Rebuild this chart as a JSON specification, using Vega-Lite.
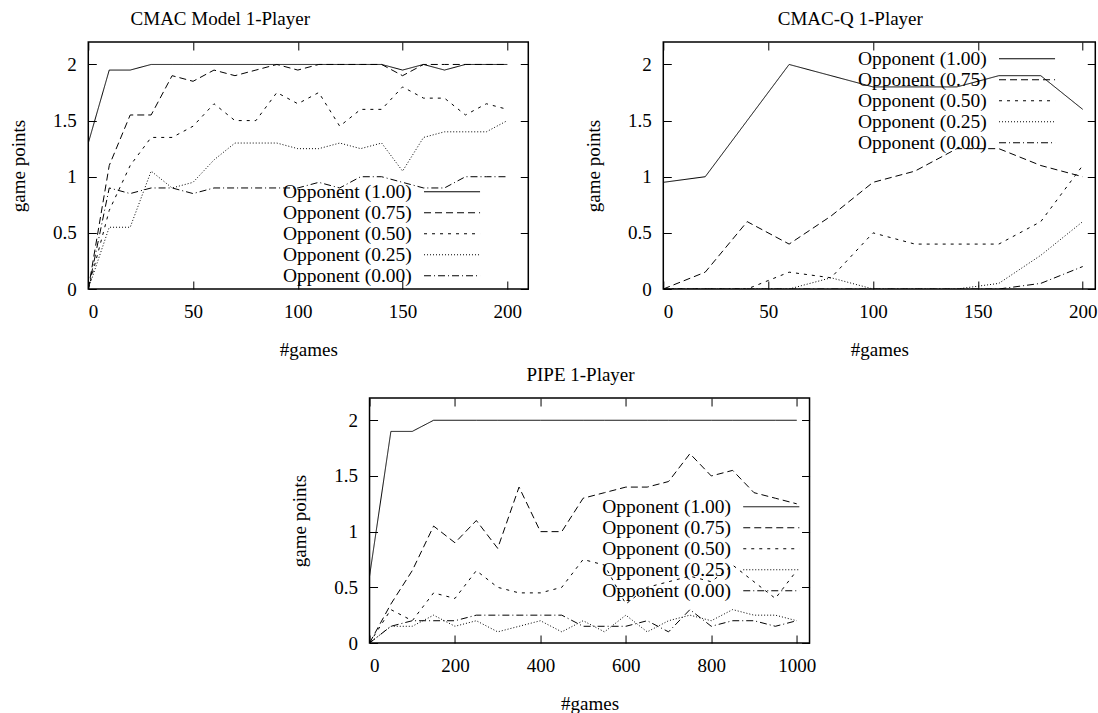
{
  "$schema": "https://vega.github.io/schema/vega-lite/v6.json",
  "padding": {"left": 8, "top": 8, "right": 0, "bottom": 0},
  "background": "white",
  "config": {
    "view": {"stroke": "black", "strokeWidth": 1.5},
    "font": "Liberation Serif",
    "title": {"font": "Liberation Serif", "fontSize": 19, "fontWeight": "normal", "color": "black", "baseline": "alphabetic", "offset": 13},
    "axis": {"labelFont": "Liberation Serif", "labelFontSize": 19, "titleFont": "Liberation Serif", "titleFontSize": 19, "titleFontWeight": "normal", "labelColor": "black", "titleColor": "black", "tickColor": "black", "tickSize": -8, "domain": false, "grid": false},
    "axisX": {"labelPadding": 21, "titlePadding": 19, "format": "d"},
    "axisY": {"labelPadding": 20, "titlePadding": 24},
    "legend": {"orient": "none", "title": null, "labelFont": "Liberation Serif", "labelFontSize": 19.5, "labelColor": "black", "labelAlign": "right", "labelOffset": -50, "symbolType": "M-10,0H10", "symbolSize": 31.4, "symbolStrokeWidth": 1, "symbolStrokeColor": "black", "symbolFillColor": "transparent", "rowPadding": 0, "padding": 0}
  },
  "datasets": {
    "p1": [
      {"g":0,"p":1.3,"o":"Opponent (1.00)"},{"g":10,"p":1.95,"o":"Opponent (1.00)"},{"g":20,"p":1.95,"o":"Opponent (1.00)"},{"g":30,"p":2,"o":"Opponent (1.00)"},{"g":40,"p":2,"o":"Opponent (1.00)"},{"g":50,"p":2,"o":"Opponent (1.00)"},{"g":60,"p":2,"o":"Opponent (1.00)"},{"g":70,"p":2,"o":"Opponent (1.00)"},{"g":80,"p":2,"o":"Opponent (1.00)"},{"g":90,"p":2,"o":"Opponent (1.00)"},{"g":100,"p":2,"o":"Opponent (1.00)"},{"g":110,"p":2,"o":"Opponent (1.00)"},{"g":120,"p":2,"o":"Opponent (1.00)"},{"g":130,"p":2,"o":"Opponent (1.00)"},{"g":140,"p":2,"o":"Opponent (1.00)"},{"g":150,"p":1.95,"o":"Opponent (1.00)"},{"g":160,"p":2,"o":"Opponent (1.00)"},{"g":170,"p":1.95,"o":"Opponent (1.00)"},{"g":180,"p":2,"o":"Opponent (1.00)"},{"g":190,"p":2,"o":"Opponent (1.00)"},{"g":200,"p":2,"o":"Opponent (1.00)"},
      {"g":0,"p":0,"o":"Opponent (0.75)"},{"g":10,"p":1.1,"o":"Opponent (0.75)"},{"g":20,"p":1.55,"o":"Opponent (0.75)"},{"g":30,"p":1.55,"o":"Opponent (0.75)"},{"g":40,"p":1.9,"o":"Opponent (0.75)"},{"g":50,"p":1.85,"o":"Opponent (0.75)"},{"g":60,"p":1.95,"o":"Opponent (0.75)"},{"g":70,"p":1.9,"o":"Opponent (0.75)"},{"g":80,"p":1.95,"o":"Opponent (0.75)"},{"g":90,"p":2,"o":"Opponent (0.75)"},{"g":100,"p":1.95,"o":"Opponent (0.75)"},{"g":110,"p":2,"o":"Opponent (0.75)"},{"g":120,"p":2,"o":"Opponent (0.75)"},{"g":130,"p":2,"o":"Opponent (0.75)"},{"g":140,"p":2,"o":"Opponent (0.75)"},{"g":150,"p":1.9,"o":"Opponent (0.75)"},{"g":160,"p":2,"o":"Opponent (0.75)"},{"g":170,"p":2,"o":"Opponent (0.75)"},{"g":180,"p":2,"o":"Opponent (0.75)"},{"g":190,"p":2,"o":"Opponent (0.75)"},{"g":200,"p":2,"o":"Opponent (0.75)"},
      {"g":0,"p":0,"o":"Opponent (0.50)"},{"g":10,"p":0.7,"o":"Opponent (0.50)"},{"g":20,"p":1.1,"o":"Opponent (0.50)"},{"g":30,"p":1.35,"o":"Opponent (0.50)"},{"g":40,"p":1.35,"o":"Opponent (0.50)"},{"g":50,"p":1.45,"o":"Opponent (0.50)"},{"g":60,"p":1.65,"o":"Opponent (0.50)"},{"g":70,"p":1.5,"o":"Opponent (0.50)"},{"g":80,"p":1.5,"o":"Opponent (0.50)"},{"g":90,"p":1.75,"o":"Opponent (0.50)"},{"g":100,"p":1.65,"o":"Opponent (0.50)"},{"g":110,"p":1.75,"o":"Opponent (0.50)"},{"g":120,"p":1.45,"o":"Opponent (0.50)"},{"g":130,"p":1.6,"o":"Opponent (0.50)"},{"g":140,"p":1.6,"o":"Opponent (0.50)"},{"g":150,"p":1.8,"o":"Opponent (0.50)"},{"g":160,"p":1.7,"o":"Opponent (0.50)"},{"g":170,"p":1.7,"o":"Opponent (0.50)"},{"g":180,"p":1.55,"o":"Opponent (0.50)"},{"g":190,"p":1.65,"o":"Opponent (0.50)"},{"g":200,"p":1.6,"o":"Opponent (0.50)"},
      {"g":0,"p":0,"o":"Opponent (0.25)"},{"g":10,"p":0.55,"o":"Opponent (0.25)"},{"g":20,"p":0.55,"o":"Opponent (0.25)"},{"g":30,"p":1.05,"o":"Opponent (0.25)"},{"g":40,"p":0.9,"o":"Opponent (0.25)"},{"g":50,"p":0.95,"o":"Opponent (0.25)"},{"g":60,"p":1.15,"o":"Opponent (0.25)"},{"g":70,"p":1.3,"o":"Opponent (0.25)"},{"g":80,"p":1.3,"o":"Opponent (0.25)"},{"g":90,"p":1.3,"o":"Opponent (0.25)"},{"g":100,"p":1.25,"o":"Opponent (0.25)"},{"g":110,"p":1.25,"o":"Opponent (0.25)"},{"g":120,"p":1.3,"o":"Opponent (0.25)"},{"g":130,"p":1.25,"o":"Opponent (0.25)"},{"g":140,"p":1.3,"o":"Opponent (0.25)"},{"g":150,"p":1.05,"o":"Opponent (0.25)"},{"g":160,"p":1.35,"o":"Opponent (0.25)"},{"g":170,"p":1.4,"o":"Opponent (0.25)"},{"g":180,"p":1.4,"o":"Opponent (0.25)"},{"g":190,"p":1.4,"o":"Opponent (0.25)"},{"g":200,"p":1.5,"o":"Opponent (0.25)"},
      {"g":0,"p":0,"o":"Opponent (0.00)"},{"g":10,"p":0.9,"o":"Opponent (0.00)"},{"g":20,"p":0.85,"o":"Opponent (0.00)"},{"g":30,"p":0.9,"o":"Opponent (0.00)"},{"g":40,"p":0.9,"o":"Opponent (0.00)"},{"g":50,"p":0.85,"o":"Opponent (0.00)"},{"g":60,"p":0.9,"o":"Opponent (0.00)"},{"g":70,"p":0.9,"o":"Opponent (0.00)"},{"g":80,"p":0.9,"o":"Opponent (0.00)"},{"g":90,"p":0.9,"o":"Opponent (0.00)"},{"g":100,"p":0.9,"o":"Opponent (0.00)"},{"g":110,"p":0.95,"o":"Opponent (0.00)"},{"g":120,"p":0.9,"o":"Opponent (0.00)"},{"g":130,"p":1,"o":"Opponent (0.00)"},{"g":140,"p":1,"o":"Opponent (0.00)"},{"g":150,"p":0.95,"o":"Opponent (0.00)"},{"g":160,"p":0.9,"o":"Opponent (0.00)"},{"g":170,"p":0.9,"o":"Opponent (0.00)"},{"g":180,"p":1,"o":"Opponent (0.00)"},{"g":190,"p":1,"o":"Opponent (0.00)"},{"g":200,"p":1,"o":"Opponent (0.00)"}
    ],
    "p2": [
      {"g":0,"p":0.95,"o":"Opponent (1.00)"},{"g":20,"p":1,"o":"Opponent (1.00)"},{"g":40,"p":1.5,"o":"Opponent (1.00)"},{"g":60,"p":2,"o":"Opponent (1.00)"},{"g":80,"p":1.9,"o":"Opponent (1.00)"},{"g":100,"p":1.8,"o":"Opponent (1.00)"},{"g":120,"p":1.8,"o":"Opponent (1.00)"},{"g":140,"p":1.8,"o":"Opponent (1.00)"},{"g":160,"p":1.9,"o":"Opponent (1.00)"},{"g":180,"p":1.9,"o":"Opponent (1.00)"},{"g":200,"p":1.6,"o":"Opponent (1.00)"},
      {"g":0,"p":0,"o":"Opponent (0.75)"},{"g":20,"p":0.15,"o":"Opponent (0.75)"},{"g":40,"p":0.6,"o":"Opponent (0.75)"},{"g":60,"p":0.4,"o":"Opponent (0.75)"},{"g":80,"p":0.65,"o":"Opponent (0.75)"},{"g":100,"p":0.95,"o":"Opponent (0.75)"},{"g":120,"p":1.05,"o":"Opponent (0.75)"},{"g":140,"p":1.25,"o":"Opponent (0.75)"},{"g":160,"p":1.25,"o":"Opponent (0.75)"},{"g":180,"p":1.1,"o":"Opponent (0.75)"},{"g":200,"p":1,"o":"Opponent (0.75)"},
      {"g":0,"p":0,"o":"Opponent (0.50)"},{"g":20,"p":0,"o":"Opponent (0.50)"},{"g":40,"p":0,"o":"Opponent (0.50)"},{"g":60,"p":0.15,"o":"Opponent (0.50)"},{"g":80,"p":0.1,"o":"Opponent (0.50)"},{"g":100,"p":0.5,"o":"Opponent (0.50)"},{"g":120,"p":0.4,"o":"Opponent (0.50)"},{"g":140,"p":0.4,"o":"Opponent (0.50)"},{"g":160,"p":0.4,"o":"Opponent (0.50)"},{"g":180,"p":0.6,"o":"Opponent (0.50)"},{"g":200,"p":1.1,"o":"Opponent (0.50)"},
      {"g":0,"p":0,"o":"Opponent (0.25)"},{"g":20,"p":0,"o":"Opponent (0.25)"},{"g":40,"p":0,"o":"Opponent (0.25)"},{"g":60,"p":0,"o":"Opponent (0.25)"},{"g":80,"p":0.1,"o":"Opponent (0.25)"},{"g":100,"p":0,"o":"Opponent (0.25)"},{"g":120,"p":0,"o":"Opponent (0.25)"},{"g":140,"p":0,"o":"Opponent (0.25)"},{"g":160,"p":0.05,"o":"Opponent (0.25)"},{"g":180,"p":0.3,"o":"Opponent (0.25)"},{"g":200,"p":0.6,"o":"Opponent (0.25)"},
      {"g":0,"p":0,"o":"Opponent (0.00)"},{"g":20,"p":0,"o":"Opponent (0.00)"},{"g":40,"p":0,"o":"Opponent (0.00)"},{"g":60,"p":0,"o":"Opponent (0.00)"},{"g":80,"p":0,"o":"Opponent (0.00)"},{"g":100,"p":0,"o":"Opponent (0.00)"},{"g":120,"p":0,"o":"Opponent (0.00)"},{"g":140,"p":0,"o":"Opponent (0.00)"},{"g":160,"p":0,"o":"Opponent (0.00)"},{"g":180,"p":0.05,"o":"Opponent (0.00)"},{"g":200,"p":0.2,"o":"Opponent (0.00)"}
    ],
    "p3": [
      {"g":0,"p":0.6,"o":"Opponent (1.00)"},{"g":50,"p":1.9,"o":"Opponent (1.00)"},{"g":100,"p":1.9,"o":"Opponent (1.00)"},{"g":150,"p":2,"o":"Opponent (1.00)"},{"g":200,"p":2,"o":"Opponent (1.00)"},{"g":250,"p":2,"o":"Opponent (1.00)"},{"g":300,"p":2,"o":"Opponent (1.00)"},{"g":350,"p":2,"o":"Opponent (1.00)"},{"g":400,"p":2,"o":"Opponent (1.00)"},{"g":450,"p":2,"o":"Opponent (1.00)"},{"g":500,"p":2,"o":"Opponent (1.00)"},{"g":550,"p":2,"o":"Opponent (1.00)"},{"g":600,"p":2,"o":"Opponent (1.00)"},{"g":650,"p":2,"o":"Opponent (1.00)"},{"g":700,"p":2,"o":"Opponent (1.00)"},{"g":750,"p":2,"o":"Opponent (1.00)"},{"g":800,"p":2,"o":"Opponent (1.00)"},{"g":850,"p":2,"o":"Opponent (1.00)"},{"g":900,"p":2,"o":"Opponent (1.00)"},{"g":950,"p":2,"o":"Opponent (1.00)"},{"g":1000,"p":2,"o":"Opponent (1.00)"},
      {"g":0,"p":0,"o":"Opponent (0.75)"},{"g":50,"p":0.35,"o":"Opponent (0.75)"},{"g":100,"p":0.65,"o":"Opponent (0.75)"},{"g":150,"p":1.05,"o":"Opponent (0.75)"},{"g":200,"p":0.9,"o":"Opponent (0.75)"},{"g":250,"p":1.1,"o":"Opponent (0.75)"},{"g":300,"p":0.85,"o":"Opponent (0.75)"},{"g":350,"p":1.4,"o":"Opponent (0.75)"},{"g":400,"p":1,"o":"Opponent (0.75)"},{"g":450,"p":1,"o":"Opponent (0.75)"},{"g":500,"p":1.3,"o":"Opponent (0.75)"},{"g":550,"p":1.35,"o":"Opponent (0.75)"},{"g":600,"p":1.4,"o":"Opponent (0.75)"},{"g":650,"p":1.4,"o":"Opponent (0.75)"},{"g":700,"p":1.45,"o":"Opponent (0.75)"},{"g":750,"p":1.7,"o":"Opponent (0.75)"},{"g":800,"p":1.5,"o":"Opponent (0.75)"},{"g":850,"p":1.55,"o":"Opponent (0.75)"},{"g":900,"p":1.35,"o":"Opponent (0.75)"},{"g":950,"p":1.3,"o":"Opponent (0.75)"},{"g":1000,"p":1.25,"o":"Opponent (0.75)"},
      {"g":0,"p":0,"o":"Opponent (0.50)"},{"g":50,"p":0.3,"o":"Opponent (0.50)"},{"g":100,"p":0.2,"o":"Opponent (0.50)"},{"g":150,"p":0.45,"o":"Opponent (0.50)"},{"g":200,"p":0.4,"o":"Opponent (0.50)"},{"g":250,"p":0.65,"o":"Opponent (0.50)"},{"g":300,"p":0.5,"o":"Opponent (0.50)"},{"g":350,"p":0.45,"o":"Opponent (0.50)"},{"g":400,"p":0.45,"o":"Opponent (0.50)"},{"g":450,"p":0.5,"o":"Opponent (0.50)"},{"g":500,"p":0.75,"o":"Opponent (0.50)"},{"g":550,"p":0.7,"o":"Opponent (0.50)"},{"g":600,"p":0.35,"o":"Opponent (0.50)"},{"g":650,"p":0.5,"o":"Opponent (0.50)"},{"g":700,"p":0.55,"o":"Opponent (0.50)"},{"g":750,"p":0.6,"o":"Opponent (0.50)"},{"g":800,"p":0.55,"o":"Opponent (0.50)"},{"g":850,"p":0.7,"o":"Opponent (0.50)"},{"g":900,"p":0.55,"o":"Opponent (0.50)"},{"g":950,"p":0.4,"o":"Opponent (0.50)"},{"g":1000,"p":0.65,"o":"Opponent (0.50)"},
      {"g":0,"p":0,"o":"Opponent (0.25)"},{"g":50,"p":0.15,"o":"Opponent (0.25)"},{"g":100,"p":0.15,"o":"Opponent (0.25)"},{"g":150,"p":0.25,"o":"Opponent (0.25)"},{"g":200,"p":0.15,"o":"Opponent (0.25)"},{"g":250,"p":0.2,"o":"Opponent (0.25)"},{"g":300,"p":0.1,"o":"Opponent (0.25)"},{"g":350,"p":0.15,"o":"Opponent (0.25)"},{"g":400,"p":0.2,"o":"Opponent (0.25)"},{"g":450,"p":0.1,"o":"Opponent (0.25)"},{"g":500,"p":0.2,"o":"Opponent (0.25)"},{"g":550,"p":0.1,"o":"Opponent (0.25)"},{"g":600,"p":0.25,"o":"Opponent (0.25)"},{"g":650,"p":0.1,"o":"Opponent (0.25)"},{"g":700,"p":0.2,"o":"Opponent (0.25)"},{"g":750,"p":0.25,"o":"Opponent (0.25)"},{"g":800,"p":0.2,"o":"Opponent (0.25)"},{"g":850,"p":0.3,"o":"Opponent (0.25)"},{"g":900,"p":0.25,"o":"Opponent (0.25)"},{"g":950,"p":0.25,"o":"Opponent (0.25)"},{"g":1000,"p":0.2,"o":"Opponent (0.25)"},
      {"g":0,"p":0,"o":"Opponent (0.00)"},{"g":50,"p":0.15,"o":"Opponent (0.00)"},{"g":100,"p":0.2,"o":"Opponent (0.00)"},{"g":150,"p":0.2,"o":"Opponent (0.00)"},{"g":200,"p":0.2,"o":"Opponent (0.00)"},{"g":250,"p":0.25,"o":"Opponent (0.00)"},{"g":300,"p":0.25,"o":"Opponent (0.00)"},{"g":350,"p":0.25,"o":"Opponent (0.00)"},{"g":400,"p":0.25,"o":"Opponent (0.00)"},{"g":450,"p":0.25,"o":"Opponent (0.00)"},{"g":500,"p":0.15,"o":"Opponent (0.00)"},{"g":550,"p":0.15,"o":"Opponent (0.00)"},{"g":600,"p":0.15,"o":"Opponent (0.00)"},{"g":650,"p":0.2,"o":"Opponent (0.00)"},{"g":700,"p":0.1,"o":"Opponent (0.00)"},{"g":750,"p":0.3,"o":"Opponent (0.00)"},{"g":800,"p":0.15,"o":"Opponent (0.00)"},{"g":850,"p":0.2,"o":"Opponent (0.00)"},{"g":900,"p":0.2,"o":"Opponent (0.00)"},{"g":950,"p":0.15,"o":"Opponent (0.00)"},{"g":1000,"p":0.2,"o":"Opponent (0.00)"}
    ]
  },
  "vconcat": [
    {
      "hconcat": [
        {
          "width": 440, "height": 247,
          "title": {"text": "CMAC Model 1-Player", "dx": -88},
          "data": {"name": "p1"},
          "layer": [
            {"mark": {"type": "line", "color": "black", "strokeWidth": 1, "clip": true},
             "encoding": {
               "x": {"field": "g", "type": "quantitative", "scale": {"domain": [0, 210], "nice": false, "zero": false}, "axis": {"orient": "bottom", "values": [0, 50, 100, 150, 200], "title": "#games"}},
               "y": {"field": "p", "type": "quantitative", "scale": {"domain": [0, 2.2], "nice": false}, "axis": {"orient": "left", "values": [0, 0.5, 1, 1.5, 2], "format": "~g", "title": "game points"}},
               "strokeDash": {"field": "o", "type": "nominal", "scale": {"domain": ["Opponent (1.00)", "Opponent (0.75)", "Opponent (0.50)", "Opponent (0.25)", "Opponent (0.00)"], "range": [[1, 0], [7, 4], [3, 5], [1, 2], [7, 3, 1, 3]]}, "legend": {"legendX": 354, "legendY": 140}}
             }},
            {"mark": {"type": "line", "opacity": 0},
             "encoding": {
               "x": {"field": "g", "type": "quantitative", "scale": {"domain": [0, 210], "nice": false, "zero": false}, "axis": {"orient": "top", "values": [0, 50, 100, 150, 200], "labels": false, "title": null}},
               "y": {"field": "p", "type": "quantitative", "scale": {"domain": [0, 2.2], "nice": false}, "axis": {"orient": "right", "values": [0, 0.5, 1, 1.5, 2], "labels": false, "title": null}}
             }}
          ],
          "resolve": {"axis": {"x": "independent", "y": "independent"}}
        },
        {
          "width": 432, "height": 247,
          "title": {"text": "CMAC-Q 1-Player", "dx": -29},
          "data": {"name": "p2"},
          "layer": [
            {"mark": {"type": "line", "color": "black", "strokeWidth": 1, "clip": true},
             "encoding": {
               "x": {"field": "g", "type": "quantitative", "scale": {"domain": [0, 206], "nice": false, "zero": false}, "axis": {"orient": "bottom", "values": [0, 50, 100, 150, 200], "title": "#games"}},
               "y": {"field": "p", "type": "quantitative", "scale": {"domain": [0, 2.2], "nice": false}, "axis": {"orient": "left", "values": [0, 0.5, 1, 1.5, 2], "format": "~g", "title": "game points"}},
               "strokeDash": {"field": "o", "type": "nominal", "scale": {"domain": ["Opponent (1.00)", "Opponent (0.75)", "Opponent (0.50)", "Opponent (0.25)", "Opponent (0.00)"], "range": [[1, 0], [7, 4], [3, 5], [1, 2], [7, 3, 1, 3]]}, "legend": {"legendX": 354, "legendY": 7}}
             }},
            {"mark": {"type": "line", "opacity": 0},
             "encoding": {
               "x": {"field": "g", "type": "quantitative", "scale": {"domain": [0, 206], "nice": false, "zero": false}, "axis": {"orient": "top", "values": [0, 50, 100, 150, 200], "labels": false, "title": null}},
               "y": {"field": "p", "type": "quantitative", "scale": {"domain": [0, 2.2], "nice": false}, "axis": {"orient": "right", "values": [0, 0.5, 1, 1.5, 2], "labels": false, "title": null}}
             }}
          ],
          "resolve": {"axis": {"x": "independent", "y": "independent"}}
        }
      ],
      "spacing": 53,
      "resolve": {"scale": {"strokeDash": "independent"}, "legend": {"strokeDash": "independent"}}
    },
    {
      "width": 440, "height": 245,
      "title": {"text": "PIPE 1-Player", "dx": -9},
      "data": {"name": "p3"},
      "layer": [
        {"mark": {"type": "line", "color": "black", "strokeWidth": 1, "clip": true},
         "encoding": {
           "x": {"field": "g", "type": "quantitative", "scale": {"domain": [0, 1030], "nice": false, "zero": false}, "axis": {"orient": "bottom", "values": [0, 200, 400, 600, 800, 1000], "title": "#games"}},
           "y": {"field": "p", "type": "quantitative", "scale": {"domain": [0, 2.2], "nice": false}, "axis": {"orient": "left", "values": [0, 0.5, 1, 1.5, 2], "format": "~g", "title": "game points"}},
           "strokeDash": {"field": "o", "type": "nominal", "scale": {"domain": ["Opponent (1.00)", "Opponent (0.75)", "Opponent (0.50)", "Opponent (0.25)", "Opponent (0.00)"], "range": [[1, 0], [7, 4], [3, 5], [1, 2], [7, 3, 1, 3]]}, "legend": {"legendX": 392, "legendY": 99}}
         }},
        {"mark": {"type": "line", "opacity": 0},
         "encoding": {
           "x": {"field": "g", "type": "quantitative", "scale": {"domain": [0, 1030], "nice": false, "zero": false}, "axis": {"orient": "top", "values": [0, 200, 400, 600, 800, 1000], "labels": false, "title": null}},
           "y": {"field": "p", "type": "quantitative", "scale": {"domain": [0, 2.2], "nice": false}, "axis": {"orient": "right", "values": [0, 0.5, 1, 1.5, 2], "labels": false, "title": null}}
         }}
      ],
      "resolve": {"axis": {"x": "independent", "y": "independent"}}
    }
  ],
  "spacing": 4,
  "center": true,
  "resolve": {"scale": {"strokeDash": "independent"}, "legend": {"strokeDash": "independent"}}
}
